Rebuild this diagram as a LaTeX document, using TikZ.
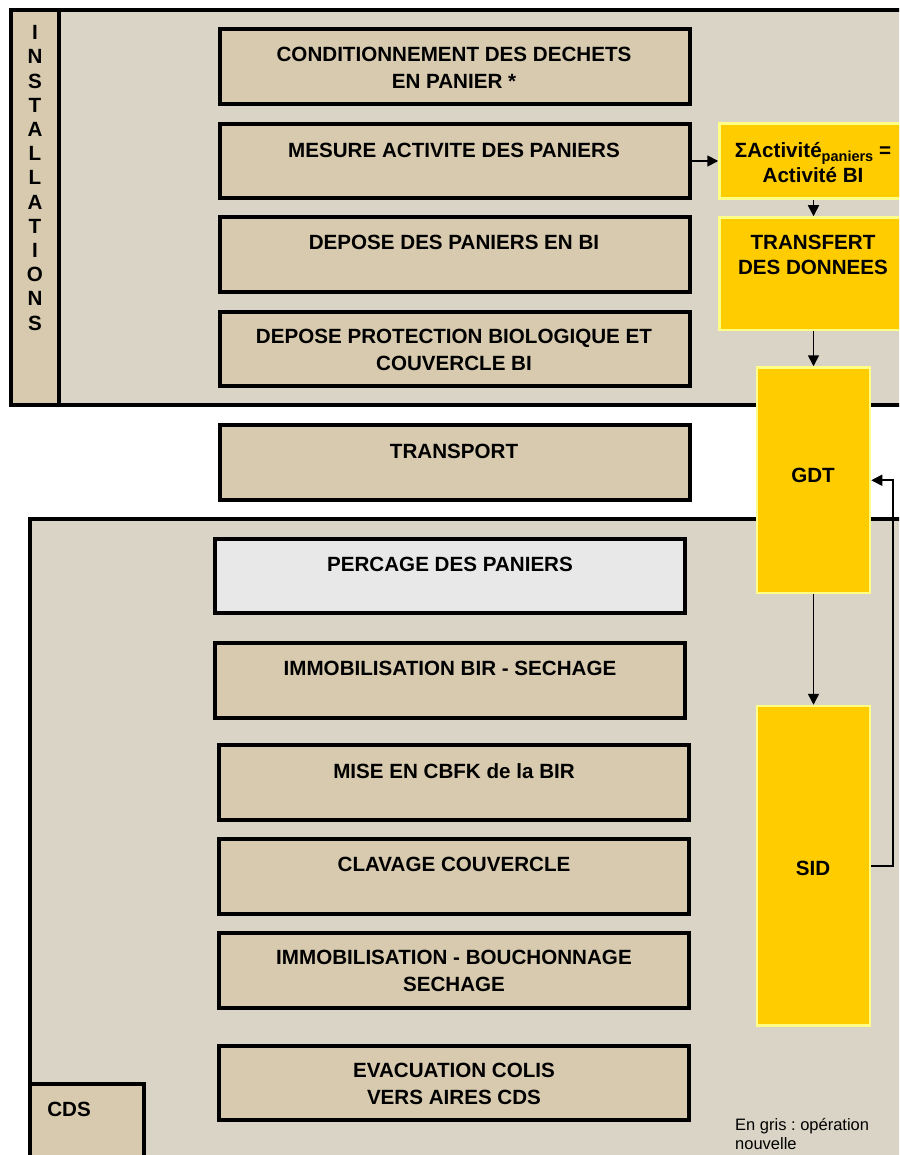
\documentclass[tikz,border=0pt]{standalone}
\usepackage{fontspec}
\setmainfont{Liberation Sans}
\usetikzlibrary{arrows.meta}
\definecolor{granite}{HTML}{D9D4C6}
\definecolor{burlap}{HTML}{D7CAAE}
\definecolor{newop}{HTML}{E8E8E8}
\definecolor{gold}{HTML}{FFCC00}
\definecolor{goldedge}{HTML}{FFFF88}
\tikzset{
  region/.style={draw=black,line width=4pt,fill=granite},
  stepbox/.style={draw=black,line width=4pt,fill=burlap,minimum width=470pt,minimum height=74.5pt,inner sep=0pt},
  newstep/.style={stepbox,fill=newop},
  goldbox/.style={draw=goldedge,line width=2.5pt,fill=gold,inner sep=0pt},
  steptext/.style={font=\bfseries\fontsize{20.6}{27}\selectfont,align=center,inner sep=0pt},
  goldtext/.style={font=\bfseries\fontsize{20.6}{25}\selectfont,align=center,inner sep=0pt},
  conn/.style={line width=1.7pt,-{Triangle[length=11pt,width=11pt]}},
}
\begin{document}
\begin{tikzpicture}[x=1pt,y=-1pt]
\useasboundingbox (0,0) rectangle (899,1155);
\fill[white] (0,0) rectangle (899,1155);
\begin{scope}
\clip (0,0) rectangle (899,1155);
% installations region
\fill[granite] (11,10) rectangle (920,404.5);
\fill[burlap] (11,10) rectangle (59,404.5);
\draw[line width=4pt] (59,10) -- (59,404.5);
\draw[line width=4pt] (11,10) rectangle (920,404.5);
% CDS-side region
\draw[region] (29.5,519) rectangle (920,1180);
\draw[stepbox] (29.5,1084) rectangle (144,1180);
% yellow boxes
\node[goldbox,minimum width=200.5pt,minimum height=75pt] (sum) at (819.75,161) {};
\node[goldbox,minimum width=200.5pt,minimum height=112.5pt] (tr) at (819.75,273.75) {};
\node[goldbox,minimum width=113pt,minimum height=225.5pt] (gdt) at (813.5,480.25) {};
\node[goldbox,minimum width=113pt,minimum height=319.5pt] (sid) at (813.5,865.75) {};
\end{scope}
% labels of regions
\node[font=\bfseries\fontsize{20.6}{24.2}\selectfont,align=center,inner sep=0pt] (inst) at (35,178)
  {I\\N\\S\\T\\A\\L\\L\\A\\T\\I\\O\\N\\S};
\node[steptext] (cds) at (69,1109) {CDS};
% step boxes
\node[stepbox] (b1) at (454.5,66.75) {};
\node[stepbox] (b2) at (454.5,161) {};
\node[stepbox] (b3) at (454.5,254.5) {};
\node[stepbox] (b4) at (454.5,349) {};
\node[stepbox] (b5) at (454.5,462.25) {};
\node[newstep] (b6) at (450.25,576) {};
\node[stepbox] (b7) at (450.25,680.5) {};
\node[stepbox] (b8) at (454,782.25) {};
\node[stepbox] (b9) at (454,876.25) {};
\node[stepbox] (b10) at (454,970.25) {};
\node[stepbox] (b11) at (454,1083) {};
% step texts
\node[steptext] (t1) at (454,67.5) {CONDITIONNEMENT DES DECHETS\\EN PANIER *};
\node[steptext] (t2) at (454,150) {MESURE ACTIVITE DES PANIERS};
\node[steptext] (t3) at (454,242) {DEPOSE DES PANIERS EN BI};
\node[steptext] (t4) at (454,349.5) {DEPOSE PROTECTION BIOLOGIQUE ET\\COUVERCLE BI};
\node[steptext] (t5) at (454,451) {TRANSPORT};
\node[steptext] (t6) at (450,564) {PERCAGE DES PANIERS};
\node[steptext] (t7) at (450,668) {IMMOBILISATION BIR - SECHAGE};
\node[steptext] (t8) at (454,771) {MISE EN CBFK de la BIR};
\node[steptext] (t9) at (454,864) {CLAVAGE COUVERCLE};
\node[steptext] (t10) at (454,971) {IMMOBILISATION - BOUCHONNAGE\\SECHAGE};
\node[steptext] (t11) at (454,1084) {EVACUATION COLIS\\VERS AIRES CDS};
% yellow texts
\node[goldtext] (sumt) at (813,162.5)
  {ΣActivité\raisebox{-4.5pt}{\fontsize{14.5}{14.5}\selectfont paniers} =\\Activité BI};
\node[goldtext] (trt) at (813,254.5) {TRANSFERT\\DES DONNEES};
\node[goldtext] (gdtt) at (813,475) {GDT};
\node[goldtext] (sidt) at (813,868) {SID};
% note
\node[font=\frenchspacing\fontsize{16.5}{19}\selectfont,align=left,inner sep=0pt,anchor=north west] (note) at (735,1118)
  {En gris : opération\\nouvelle};
% connectors
\coordinate (fb) at (893,0);
\draw[conn] (b2.east) -- (sum.west);
\draw[conn] (sum.south -| gdt.center) -- (tr.north -| gdt.center);
\draw[conn] (tr.south -| gdt.center) -- (gdt.north);
\draw[conn] (gdt.south) -- (sid.north);
\draw[conn] (sid.east) -- (sid.east -| fb) -- (gdt.east -| fb) -- (gdt.east);
\end{tikzpicture}
\end{document}
